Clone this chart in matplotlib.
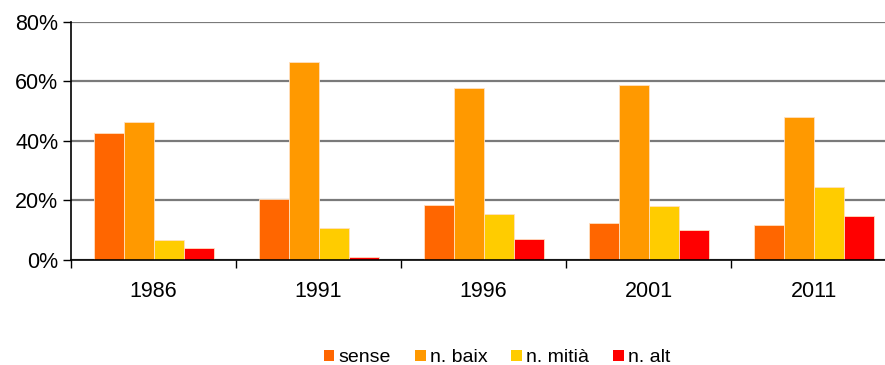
import matplotlib
matplotlib.use("Agg")
import matplotlib.pyplot as plt
import numpy as np
from matplotlib.ticker import FuncFormatter, FixedLocator
from matplotlib.patches import Patch

plt.rcParams['font.family'] = ['Liberation Sans', 'DejaVu Sans']

years = ['1986', '1991', '1996', '2001', '2011']
series_names = ['sense', 'n. baix', 'n. mitià', 'n. alt']
sense = [42.5, 20.6, 18.6, 12.3, 11.7]
baix = [46.3, 66.6, 57.7, 58.7, 48.0]
mitia = [6.8, 10.8, 15.6, 18.0, 24.6]
alt = [4.1, 0.9, 7.0, 10.0, 14.8]
colors = ['#FF6600', '#FF9900', '#FFCC00', '#FF0000']

fig = plt.figure(figsize=(8.85, 3.65), dpi=100)
ax = fig.add_axes([71/885, 1-260/365, (896-71)/885, (260-21.7)/365])

x = np.arange(len(years))
w = 30/165
for i, (vals, c) in enumerate(zip([sense, baix, mitia, alt], colors)):
    ax.bar(x + (i - 1.5) * w, vals, width=w, color=c, edgecolor='#FFE0C0',
           linewidth=0.6, zorder=3)

ax.set_xlim(-0.5, len(years) - 0.5)
ax.set_ylim(0, 80)
ax.set_yticks([0, 20, 40, 60, 80])
ax.yaxis.set_major_formatter(FuncFormatter(lambda v, p: f"{int(v)}%"))
ax.yaxis.grid(True, color='#7a7a7a', linewidth=1.6, zorder=0)
ax.set_axisbelow(True)

ax.set_xticks(x)
ax.set_xticklabels(years)
ax.xaxis.set_minor_locator(FixedLocator(np.arange(-0.5, len(years), 1.0)))
ax.tick_params(axis='x', which='major', length=0, pad=15, labelsize=15.5)
ax.tick_params(axis='x', which='minor', length=6, width=1, color='black')
ax.tick_params(axis='y', length=6, width=1, labelsize=15.5, pad=3)

for s in ['top', 'right']:
    ax.spines[s].set_visible(False)
for s in ['left', 'bottom']:
    ax.spines[s].set_color('black')
    ax.spines[s].set_linewidth(1.2)
ax.spines['bottom'].set_zorder(4)

handles = [Patch(facecolor=c, edgecolor='none') for c in colors]
fig.legend(handles, series_names, loc='center', bbox_to_anchor=(497/885, 1-358/365),
           ncol=4, frameon=False, fontsize=14, handlelength=0.55, handleheight=0.55,
           handletextpad=0.2, columnspacing=1.25)

fig.savefig('out.png', dpi=100)
